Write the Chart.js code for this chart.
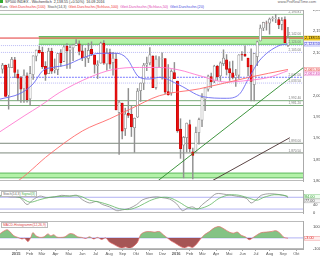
<!DOCTYPE html>
<html><head><meta charset="utf-8">
<script src="https://cdn.jsdelivr.net/npm/chart.js@4.4.1/dist/chart.umd.min.js"></script>
<style>
html,body{margin:0;padding:0;background:#fff;}
body{width:320px;height:256px;position:relative;overflow:hidden;font-family:"Liberation Sans","DejaVu Sans",sans-serif;}
canvas{position:absolute;left:0;}
.hdr{position:absolute;left:0;font-size:3.7px;line-height:5px;white-space:nowrap;color:#444;}
.hdr span{margin-right:2px}
.ptag{position:absolute;left:1px;font-size:3.4px;line-height:4px;white-space:nowrap;background:#fff;border:0.5px solid #bbb;padding:0 1px;}
</style></head><body>
<div class="hdr" style="top:0;left:0"><span style="display:inline-block;width:3px;height:3px;background:#3a3;margin-right:2px"></span><span style="color:#333">SP500 INDEX - Wöchentlich</span><span style="color:#333">2,138.55 (+0.50%)</span><span style="color:#333">16.09.2016</span></div>
<div class="hdr" style="top:0;left:auto;right:4px;color:#666">www.ProRealTime.com</div>
<div class="hdr" style="top:5px"><span style="color:#444">Kurs</span><span style="color:#e33">Gleit.Durchschn.(100)</span><span style="color:#555">Stoch(14,3)</span><span style="color:#e33">Gleit.Durchschn.(Schluss,100)</span><span style="color:#e040b0">Gleit.Durchschn.(Schluss,50)</span><span style="color:#4848e0">Gleit.Durchschn.(20)</span></div>
<canvas id="cMain" width="320" height="178" style="top:10px"></canvas>
<canvas id="cSto" width="320" height="33" style="top:190px"></canvas>
<canvas id="cMom" width="320" height="35" style="top:221px"></canvas>
<div class="ptag" style="top:191px"><span style="color:#666">Stoch(14,3)</span> <span style="color:#4a4">Signal(3)</span></div>
<div class="ptag" style="top:222px;color:#d44">MACD-Histogramm(12,26,9)</div>
<script>
// ---------- DATA ----------
const firstWeek = '2014-12-01';
const opens = [2065.8,2074.8,2005.0,2069.3,2087.6,2054.4,2046.1,2020.8,2050.4,1996.7,
 2053.5,2096.5,2109.8,2105.2,2072.3,2055.4,2108.0,2064.1,2064.9,2102.9,
 2084.1,2119.3,2110.2,2115.6,2121.3,2125.3,2108.6,2092.3,2091.3,2112.5,
 2098.6,2074.0,2080.0,2126.8,2078.2,2104.5,2081.0,2089.7,1965.2,1986.7,
 1927.3,1963.1,1960.8,1929.2,1954.3,2015.7,2033.5,2075.1,2080.8,2096.6,
 2022.8,2089.4,2091.0,2090.4,2013.4,2010.3,2057.8,2038.2,1926.1,1888.7,
 1906.3,1936.9,1873.3,1871.4,1917.8,1947.1,1996.1,2019.3,2048.6,2037.9,
 2073.2,2050.2,2078.8,2087.8,2067.2,2057.6,2046.5,2052.2,2100.1,2100.8,
 2091.8,2075.6,2030.0,2095.1,2131.7,2162.0,2173.7,2173.2,2183.7,2183.7,
 2181.6,2170.2,2181.6,2120.9];
const highs = [2079.5,2075.8,2077.9,2093.6,2093.6,2064.4,2049.3,2064.6,2057.6,2072.4,
 2097.0,2110.6,2119.6,2117.5,2083.5,2114.9,2114.9,2089.8,2102.6,2111.9,
 2120.9,2125.9,2121.0,2123.9,2134.7,2132.2,2121.9,2115.0,2126.6,2129.9,
 2098.6,2085.7,2129.2,2132.8,2114.2,2112.7,2105.4,2102.9,1993.5,1986.7,
 1975.0,2020.9,1980.8,1952.1,2020.9,2034.0,2079.7,2094.3,2116.5,2097.6,
 2097.1,2095.6,2104.3,2090.4,2076.7,2064.7,2081.6,2038.2,1950.3,1908.9,
 1940.2,1947.2,1881.6,1930.7,1952.0,2009.1,2022.4,2052.4,2056.6,2075.1,
 2075.1,2083.1,2111.1,2099.9,2083.4,2084.9,2065.4,2100.1,2106.8,2120.6,
 2092.1,2113.3,2102.7,2131.7,2169.1,2175.6,2178.3,2185.4,2188.5,2193.8,
 2187.0,2186.6,2187.9,2163.3];
const lows = [2056.5,2002.3,1972.6,2069.3,2046.0,1992.4,1988.1,1988.4,1989.2,1980.9,
 2041.9,2085.4,2103.0,2067.3,2039.7,2055.4,2055.8,2057.0,2053.0,2072.4,
 2083.6,2067.9,2067.9,2085.7,2120.9,2099.1,2085.7,2072.1,2081.2,2097.4,
 2056.6,2044.0,2080.0,2077.3,2063.5,2067.9,2052.1,1970.9,1867.0,1903.1,
 1911.0,1953.0,1908.8,1871.9,1953.1,1990.7,2018.2,2062.7,2076.0,2022.6,
 2019.4,2070.3,2042.4,2008.8,2005.1,2005.1,2043.6,1918.5,1857.8,1812.3,
 1872.7,1872.7,1810.1,1871.4,1891.0,1931.8,1969.0,2014.4,2022.5,2034.4,
 2039.7,2039.4,2074.3,2052.3,2039.7,2043.1,2025.9,2044.1,2086.5,2095.4,
 2050.4,1991.7,1991.7,2074.0,2131.7,2155.8,2157.0,2147.6,2177.9,2174.4,
 2160.4,2157.4,2127.8,2119.1];
const closes = [2075.4,2002.3,2070.7,2088.8,2058.2,2044.8,2019.4,2051.8,1995.0,2055.5,
 2097.0,2110.3,2104.5,2071.3,2053.4,2108.1,2061.0,2067.0,2102.1,2081.2,
 2117.7,2108.3,2116.1,2122.7,2126.1,2107.4,2092.8,2094.1,2110.0,2101.5,
 2076.8,2076.6,2126.6,2079.7,2103.8,2077.6,2091.5,1970.9,1988.9,1921.2,
 1961.1,1958.0,1931.3,1951.4,2014.9,2033.1,2075.2,2079.4,2099.2,2023.0,
 2089.2,2090.1,2091.7,2012.4,2005.6,2061.0,2043.9,1922.0,1880.3,1906.9,
 1940.2,1880.1,1864.8,1917.8,1948.1,2000.0,2022.2,2049.6,2035.9,2072.8,
 2047.6,2080.7,2091.6,2065.3,2057.1,2046.6,2052.3,2099.1,2099.1,2096.1,
 2071.2,2037.4,2103.0,2129.9,2161.7,2175.0,2173.6,2182.9,2184.1,2183.9,
 2169.0,2180.0,2127.8,2138.55];

// moving averages (week index, value)
const maBlueWeeks = [-0.8,5.7,9.9,13.2,16.4,20.9,26.1,31.7,37.2,40.4,44.6,47.9,51.1,57.6,65.1,72.9,77.1,80.4,83.6,90.1,93];
const maBlueValues = [1996,2009,2031,2063,2070,2076,2092,2103,2103,2092,2047,2043,2047,2029,2002,1998,2007,2047,2085,2121,2124.5];
const maPinkWeeks = [-0.8,7.3,12.2,18.7,28.4,35.9,44.6,51.1,57.6,64.1,72.9,80.4,86.9,93];
const maPinkValues = [1920,1958,1980,2012,2047,2065,2070,2070,2064,2051,2036,2040,2047,2062.4];
const maRedWeeks = [0.0,4.1,15.4,26.1,34.9,41.4,51.1,64.1,80.4,93];
const maRedValues = [1790,1801,1868,1922,1950,1972,2004,2020,2047,2065.3];

// horizontal levels / zones / trendlines
const athLevel = 2193.81;
const lastPrice = 2138.55;
const upperZone = [2124.0, 2142.0];
const upperZoneStartWeek = 11.8;
const lowerZone = [1812.3, 1823.5];
const dottedLevels = [2121.0, 2105.0, 2033.5];
const blueDashLevel = 2047.0;
const greenLevels = [1992.4, 1981.2];
const greyLevels = [1893.0, 1870.5];
const trendUpWeeks = [50, 98];
const trendUpValues = [1802, 2069.5];
const trendDarkWeeks = [66.9, 93.6];
const trendDarkValues = [1800, 1906];

// stochastic
const kWeeks = [-0.8,2.4,5.7,8.0,9.9,12.2,14.4,17.0,19.3,21.9,24.2,26.1,28.4,30.7,32.6,34.9,37.2,39.1,41.4,43.7,45.6,47.9,50.2,52.1,54.4,56.7,58.6,60.2,61.9,63.5,65.1,67.4,69.6,72.9,76.1,79.4,81.0,82.6,84.3,86.9,90.1,92.4,93];
const kValues = [90,82,78,43,67,86,78,82,90,86,90,67,51,59,43,31,12,16,24,43,67,78,82,78,71,47,12,24,31,20,43,71,98,94,86,75,51,67,90,98,94,86,77];
const dWeeks = [-0.8,2.4,5.7,8.9,12.2,15.4,18.7,21.9,25.2,28.4,31.7,34.9,38.1,41.4,44.6,47.9,51.1,54.4,57.6,60.9,64.1,67.4,70.6,73.9,77.1,80.4,82.9,85.2,88.5,91.7,93];
const dValues = [85,86,80,55,68,80,84,86,86,65,55,40,22,18,35,62,78,78,55,25,22,40,75,92,90,75,65,80,93,90,84];
const stochLevels = [80, 20];

// MACD histogram
const mWeeks = [-0.8,0.2,1.5,2.4,3.7,5.0,6.3,7.3,8.3,9.3,9.9,10.9,12.2,13.5,14.8,15.7,16.7,17.7,19.0,20.3,21.9,23.2,24.5,25.8,27.1,28.4,29.7,31.0,32.3,33.6,34.9,36.2,37.4,38.8,40.1,41.4,42.7,44.0,45.0,46.3,47.9,49.5,51.1,52.4,53.7,55.0,56.3,57.6,59.3,60.6,61.9,63.2,64.5,65.8,67.4,69.0,70.6,72.2,73.9,75.2,76.5,77.8,79.1,80.4,81.7,83.0,84.3,85.9,87.5,89.1,90.4,91.7,93.0];
const mValues = [40,60,78,60,20,5,-10,-5,-35,10,50,20,5,10,38,20,30,8,5,10,40,35,10,5,-5,10,-10,5,-15,0,-40,-60,-80,-95,-85,-100,-80,-40,30,55,60,55,60,30,0,-30,-50,-75,-95,-80,-90,-60,-10,30,60,95,107,85,55,45,55,25,10,-17,5,30,50,55,60,68,45,5,-3];

// axis ticks
const monthTickDates = ['2015-01-01','2015-02-01','2015-03-01','2015-04-01','2015-05-01','2015-06-01','2015-07-01','2015-08-01','2015-09-01','2015-10-01','2015-11-01','2015-12-01','2016-01-01','2016-02-01','2016-03-01','2016-04-01','2016-05-01','2016-06-01','2016-07-01','2016-08-01','2016-09-01','2016-10-01'];
const monthTickLabels = ['2015','Feb','Mär','Apr','Mai','Jun','Jul','Aug','Sep','Okt','Nov','Dez','2016','Feb','Mär','Apr','Mai','Jun','Jul','Aug','Sep','Okt'];
const priceStep = 50;
const stochStep = 20;
const macdStep = 50;

// ---------- CHARTS ----------
const FONT = '"Liberation Sans","DejaVu Sans",sans-serif';
Chart.defaults.font.family = FONT;
Chart.defaults.font.size = 4;
Chart.defaults.color = '#555';
Chart.defaults.animation = false;
Chart.defaults.plugins.legend.display = false;
Chart.defaults.plugins.tooltip.enabled = false;
Chart.defaults.elements.point.radius = 0;

const X_MIN = -0.81, X_MAX = 97.9;
const WEEK_MS = 7*864e5;
const tickWeeks = monthTickDates.map(d => (Date.parse(d) - Date.parse(firstWeek)) / WEEK_MS);
const pts = (ws, vs) => ws.map((w,i) => ({x:w, y:vs[i]}));
const fmt = (v, d=2) => v.toLocaleString('en-US', {minimumFractionDigits:d, maximumFractionDigits:d});
const noPad = s => { s.paddingTop = 0; s.paddingBottom = 0; s.paddingLeft = 0; s.paddingRight = 0; };

function xAxis(show){
  return {type:'linear', min:X_MIN, max:X_MAX, offset:false, display:show,
    afterBuildTicks: s => { s.ticks = tickWeeks.map(v => ({value:v})); },
    afterFit: s => { s.height = 7; noPad(s); },
    ticks:{autoSkip:false, maxRotation:0, minRotation:0, padding:0, color:'#555',
      callback:(v,i) => monthTickLabels[i],
      font: c => ({size:4, weight: /^\d{4}$/.test(monthTickLabels[c.index]||'') ? 'bold' : 'normal'})},
    grid:{display:true, drawOnChartArea:false, tickLength:2, color:'#aaa'},
    border:{display:true, color:'#aaa'}};
}
function yAxis(min, max, step, cb){
  return {position:'right', min, max, afterFit: s => { s.width = 17; noPad(s); },
    grid:{display:false}, border:{display:true, color:'#aaa'},
    ticks:{stepSize:step, includeBounds:false, padding:2, color:'#444', font:{size:4}, callback:cb}};
}
const hline = (v, color, dash, width, from) => ({type:'line', data:[{x:from===undefined?X_MIN-1:from, y:v},{x:X_MAX+1, y:v}],
  borderColor:color, borderWidth:width||0.8, borderDash:dash||[], pointRadius:0, order:6});

const frame = {id:'frame', afterDraw(c){
  const a = c.chartArea, ctx = c.ctx; ctx.save(); ctx.strokeStyle = '#bbb'; ctx.lineWidth = 1;
  ctx.beginPath(); ctx.moveTo(0, a.top+0.5); ctx.lineTo(a.right, a.top+0.5);
  ctx.moveTo(0, a.bottom-0.5); ctx.lineTo(a.right, a.bottom-0.5); ctx.stroke(); ctx.restore(); }};

const valueBoxes = {id:'valueBoxes', afterDraw(c, args, opts){
  const sc = c.scales.y, ctx = c.ctx, x = c.chartArea.right + 1;
  const items = (opts.items||[]).map(it => ({...it, py: sc.getPixelForValue(it.value)})).sort((a,b) => a.py - b.py);
  for (let k=1; k<items.length; k++) if (items[k].py - items[k-1].py < 4.4) items[k].py = items[k-1].py + 4.4;
  ctx.save(); ctx.font = '3.8px ' + FONT; ctx.textBaseline = 'middle'; ctx.textAlign = 'left';
  items.forEach(it => {
    ctx.fillStyle = it.bg; ctx.fillRect(x, it.py-2.2, 17, 4.4);
    ctx.strokeStyle = it.border; ctx.lineWidth = 0.5; ctx.strokeRect(x+0.25, it.py-1.95, 16.5, 3.9);
    ctx.fillStyle = it.fg; ctx.fillText(it.text, x+1, it.py+0.2);
  });
  ctx.restore(); }};

const levelTags = {id:'levelTags', afterDatasetsDraw(c, args, opts){
  const sc = c.scales.y, ctx = c.ctx, r = c.chartArea.right - 2;
  ctx.save(); ctx.font = '3.2px ' + FONT; ctx.fillStyle = '#777'; ctx.textAlign = 'right'; ctx.textBaseline = 'bottom';
  (opts.items||[]).forEach(v => ctx.fillText(fmt(v), r, sc.getPixelForValue(v) - 0.5));
  ctx.restore(); }};

// main chart datasets
const up = closes.map((c,i) => c >= opens[i]);
const weeks = closes.map((_,i) => i);
const mainSets = [
  {type:'line', data:[{x:upperZoneStartWeek,y:upperZone[1]},{x:X_MAX+1,y:upperZone[1]}], borderColor:'#5cb85c', borderWidth:1, pointRadius:0, order:8},
  {type:'line', data:[{x:upperZoneStartWeek,y:upperZone[0]},{x:X_MAX+1,y:upperZone[0]}], borderColor:'#5cb85c', borderWidth:1, pointRadius:0, fill:'-1', backgroundColor:'#b3f2a8', order:8},
  {type:'line', data:[{x:X_MIN-1,y:lowerZone[1]},{x:X_MAX+1,y:lowerZone[1]}], borderColor:'#5cb85c', borderWidth:1, pointRadius:0, order:8},
  {type:'line', data:[{x:X_MIN-1,y:lowerZone[0]},{x:X_MAX+1,y:lowerZone[0]}], borderColor:'#5cb85c', borderWidth:1, pointRadius:0, fill:'-1', backgroundColor:'#b3f2a8', order:8},
  hline(athLevel, '#8cc08c', [], 0.9),
  ...dottedLevels.map(v => hline(v, '#a9a9f2', [1,1], 0.8)),
  hline(blueDashLevel, '#5a5aff', [2,1], 0.8),
  ...greenLevels.map(v => hline(v, '#6aa06a', [], 0.9)),
  ...greyLevels.map(v => hline(v, '#6e7c6e', [], 0.9)),
  hline(lastPrice, '#e02020', [], 0.9),
  {type:'bar', data: weeks.map(i => ({x:i, y:[lows[i], highs[i]]})), backgroundColor:'#909090', barThickness:0.8, grouped:false, order:3},
  {type:'bar', data: weeks.map(i => ({x:i, y:[opens[i], closes[i]]})), backgroundColor: up.map(u => u ? '#ffffff' : '#ea1010'),
    borderColor: up.map(u => u ? '#8c8c8c' : '#c80000'), borderWidth:0.7, borderSkipped:false, barThickness:2.3, grouped:false, order:2},
  {type:'line', data: pts(maRedWeeks, maRedValues), borderColor:'#ff6a6a', borderWidth:0.9, cubicInterpolationMode:'monotone', order:1},
  {type:'line', data: pts(maPinkWeeks, maPinkValues), borderColor:'#ff7ad0', borderWidth:0.9, cubicInterpolationMode:'monotone', order:1},
  {type:'line', data: pts(maBlueWeeks, maBlueValues), borderColor:'#6a6af2', borderWidth:0.9, cubicInterpolationMode:'monotone', order:1},
  {type:'line', data: pts(trendUpWeeks, trendUpValues), borderColor:'#2a8a2a', borderWidth:0.9, order:0},
  {type:'line', data: pts(trendDarkWeeks, trendDarkValues), borderColor:'#4a3030', borderWidth:0.9, order:0},
];
const last = a => a[a.length-1];
new Chart(document.getElementById('cMain'), {
  type:'bar',
  data:{datasets: mainSets},
  options:{responsive:false, devicePixelRatio:1, layout:{padding:0},
    scales:{x:xAxis(false), y:yAxis(1805, 2204, priceStep, v => fmt(v,0))},
    plugins:{
      valueBoxes:{items:[
        {value:lastPrice, text:fmt(lastPrice), bg:'#ffd42a', fg:'#000', border:'#c9a400'},
        {value:last(maBlueValues), text:fmt(last(maBlueValues)), bg:'#eef', fg:'#3535d0', border:'#8888ee'},
        {value:last(maRedValues), text:fmt(last(maRedValues)), bg:'#fee', fg:'#e03030', border:'#f09090'},
        {value:last(maPinkValues), text:fmt(last(maPinkValues)), bg:'#fef', fg:'#d040a0', border:'#f0a0d8'}]},
      levelTags:{items:[athLevel, upperZone[1], upperZone[0], dottedLevels[1], blueDashLevel, dottedLevels[2], greenLevels[0], greenLevels[1], greyLevels[0], greyLevels[1]]}
    }},
  plugins:[frame, valueBoxes, levelTags]
});

// stochastic chart
new Chart(document.getElementById('cSto'), {
  type:'line',
  data:{datasets:[
    ...stochLevels.map(v => hline(v, '#a9a9f2', [], 0.9)),
    {data: pts(kWeeks, kValues), borderColor:'#8a8a8a', borderWidth:0.8, tension:0.3, order:1},
    {data: pts(dWeeks, dValues), borderColor:'#62b862', borderWidth:0.8, tension:0.3, order:0}]},
  options:{responsive:false, devicePixelRatio:1, layout:{padding:{bottom:3}},
    scales:{x:xAxis(false), y:yAxis(0, 117, stochStep, v => v)},
    plugins:{valueBoxes:{items:[
      {value:last(dValues), text:fmt(last(dValues)), bg:'#efe', fg:'#3a9a3a', border:'#8c8'},
      {value:last(kValues), text:fmt(last(kValues)), bg:'#f4f4f4', fg:'#555', border:'#aaa'}]}}},
  plugins:[frame, valueBoxes]
});

// MACD histogram chart
new Chart(document.getElementById('cMom'), {
  type:'line',
  data:{datasets:[
    hline(0, '#a9a9f2', [], 0.9),
    {data: pts(mWeeks, mValues), borderColor:'#e86a6a', borderWidth:0.7, tension:0.3,
     fill:{target:{value:0}, above:'rgba(110,185,110,0.85)', below:'rgba(150,55,55,0.85)'}, order:0}]},
  options:{responsive:false, devicePixelRatio:1, layout:{padding:0},
    scales:{x:xAxis(true), y:yAxis(-105, 160, macdStep, v => v > 100 ? '' : v)},
    plugins:{valueBoxes:{items:[{value:last(mValues), text:fmt(last(mValues)), bg:'#fee', fg:'#e03030', border:'#f09090'}]}}},
  plugins:[frame, valueBoxes]
});
</script>
</body></html>
